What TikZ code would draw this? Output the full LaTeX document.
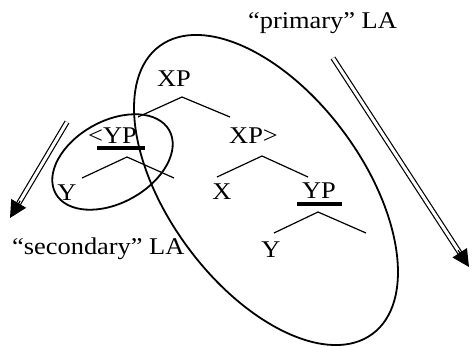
\documentclass[tikz,border=0pt]{standalone}
\usepackage{fontspec}
\setmainfont{Liberation Serif}[FakeStretch=1.1]
\usetikzlibrary{arrows.meta,calc}
\begin{document}
\begin{tikzpicture}[x=1pt,y=-1pt,
  lbl/.style={inner sep=0pt, font=\fontsize{24}{28}\selectfont},
  branch/.style={line width=1.2pt},
  bar/.style={line width=3.5pt},
  loop/.style={line width=1.8pt},
  dbl/.style={double, line width=1.2pt, double distance=3pt},
  head/.style={-{Triangle[length=17pt,width=17pt]}, line width=1.2pt}]
\useasboundingbox (0,0) rectangle (472,347);

% labels
\node[lbl, anchor=base] (prim) at (322.5,29) {“primary” LA};
\node[lbl, anchor=base west] (sec) at (12,255) {“secondary” LA};
\node[lbl, anchor=base] (xptop) at (174,87) {XP};
\node[lbl, anchor=base west] (ypl) at (88,144) {<YP};
\node[lbl, anchor=base west] (xpr) at (229,144) {XP>};
\node[lbl, anchor=base] (yl) at (67,201) {Y};
\node[lbl, anchor=base] (x) at (222,200) {X};
\node[lbl, anchor=base] (ypr) at (319,199) {YP};
\node[lbl, anchor=base] (yb) at (271,258) {Y};

% branch points
\coordinate (a1) at (182,97);  \coordinate (a1l) at (138,117); \coordinate (a1r) at (230,117);
\coordinate (a2) at (127,157); \coordinate (a2l) at (82,178);  \coordinate (a2r) at (174,178);
\coordinate (a3) at (262,156); \coordinate (a3l) at (217,177); \coordinate (a3r) at (308,177);
\coordinate (a4) at (318,212); \coordinate (a4l) at (274,233); \coordinate (a4r) at (366,233);
\draw[branch] (a1l) -- (a1) -- (a1r);
\draw[branch] (a2l) -- (a2) -- (a2r);
\draw[branch] (a3l) -- (a3) -- (a3r);
\draw[branch] (a4l) -- (a4) -- (a4r);

% bars
\coordinate (b1l) at (97,148);  \coordinate (b1r) at (145,148);
\coordinate (b2l) at (297,204); \coordinate (b2r) at (342,204);
\draw[bar] (b1l) -- (b1r);
\draw[bar] (b2l) -- (b2r);

% ellipses
\draw[loop, rotate around={29:(112.5,162)}] (112.5,162) ellipse [x radius=65, y radius=41];
\draw[loop, rotate around={-53.5:(266,190)}] (266,190) ellipse [x radius=179, y radius=97];

% arrows
\coordinate (l1) at (67,122); \coordinate (l2) at (10,218);
\draw[dbl, shorten >=15pt] (l1) -- (l2);
\draw[head] ($(l2)!20pt!(l1)$) -- (l2);
\coordinate (r1) at (333,58); \coordinate (r2) at (469,267);
\draw[dbl, shorten >=15pt] (r1) -- (r2);
\draw[head] ($(r2)!20pt!(r1)$) -- (r2);
\end{tikzpicture}
\end{document}
